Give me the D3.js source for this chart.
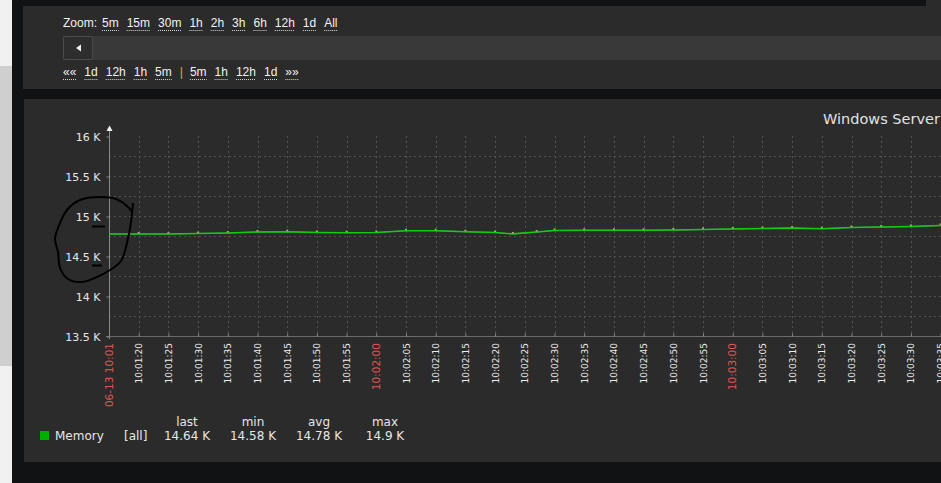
<!DOCTYPE html>
<html>
<head>
<meta charset="utf-8">
<script src="https://cdn.jsdelivr.net/npm/d3@7"></script>
<style>
  html, body { margin: 0; padding: 0; background: #111214; overflow: hidden; }
  svg { display: block; }
</style>
</head>
<body>
<svg id="page" width="941" height="483"></svg>
<script>
// memory samples, seconds after 10:01:15 and the value at that moment
var sampleSeconds = [0, 5, 10, 15, 20, 25, 30, 35, 40, 45, 50, 55, 60, 65, 68, 72, 75, 80, 85, 90, 95, 100, 105, 110, 115, 120, 125, 130, 135, 140, 145]
var memoryValues = [14775, 14775, 14775, 14781, 14787, 14800, 14804, 14794, 14791, 14794, 14816, 14816, 14804, 14794, 14776, 14800, 14819, 14821, 14821, 14821, 14825, 14831, 14837, 14844, 14850, 14841, 14856, 14862, 14869, 14881, 14890]
var yTicks = [13500, 14000, 14500, 15000, 15500, 16000]
var yGrid = [13750, 14000, 14250, 14500, 14750, 15000, 15250, 15500, 15750]
var zoomLinks = ['5m', '15m', '30m', '1h', '2h', '3h', '6h', '12h', '1d', 'All']
var backLinks = ['1d', '12h', '1h', '5m']
var forwardLinks = ['5m', '1h', '12h', '1d']
var legendHeads = ['last', 'min', 'avg', 'max']
var legendValues = ['14.64 K', '14.58 K', '14.78 K', '14.9 K']
// hand drawn circle someone put round the 15 K / 14.5 K labels
var scribble = [[133, 203], [131, 222], [127, 243], [121, 261], [110, 270], [97, 277], [82, 282], [68, 279], [60, 268], [58, 252], [55, 239], [60, 223], [67, 210], [80, 200], [100, 197], [116, 199], [127, 206], [132, 212]]

var svg = d3.select('#page')
var navFont = '"Liberation Sans", Arial, sans-serif'
var chartFont = '"DejaVu Sans", sans-serif'

// page chrome
svg.append('rect').attr('x', 0).attr('y', 0).attr('width', 12).attr('height', 483).attr('fill', '#f0f0f0')
svg.append('rect').attr('x', 0).attr('y', 66).attr('width', 12).attr('height', 300).attr('fill', '#cfcfcf')
svg.append('rect').attr('x', 926).attr('y', 0).attr('width', 15).attr('height', 6).attr('fill', '#2b2b2b')
svg.append('rect').attr('x', 23).attr('y', 6).attr('width', 918).attr('height', 83).attr('fill', '#2b2b2b')
svg.append('rect').attr('x', 63).attr('y', 36).attr('width', 878).attr('height', 24).attr('fill', '#393939')
svg.append('rect').attr('x', 63.5).attr('y', 36.5).attr('width', 29).attr('height', 23).attr('rx', 2)
  .attr('fill', '#2e2e2e').attr('stroke', '#4c4c4c')
svg.append('path').attr('d', 'M76,48L81,44.5L81,51.5Z').attr('fill', '#f2f2f2')
svg.append('rect').attr('x', 24).attr('y', 99).attr('width', 917).attr('height', 363).attr('fill', '#2b2b2b')

function linkRow(y, x, items) {
  items.forEach(function(it) {
    var t = svg.append('text').attr('x', x).attr('y', y)
      .attr('font-family', navFont).attr('font-size', 12)
      .attr('fill', it.color || '#f2f2f2').text(it.text)
    var w = t.node().getComputedTextLength()
    if (it.link) svg.append('line').attr('x1', x).attr('x2', x + w).attr('y1', y + 3.5).attr('y2', y + 3.5)
      .attr('stroke', '#d8d8d8').attr('stroke-width', 1).attr('stroke-dasharray', '1,1')
    x += w + (it.gap || 8)
  })
}

linkRow(27, 63, [{text: 'Zoom:', gap: 5}].concat(zoomLinks.map(function(d){ return {text: d, link: true} })))
linkRow(76, 63, [{text: '««', link: true}]
  .concat(backLinks.map(function(d){ return {text: d, link: true} }))
  .concat([{text: '|', color: '#e8a42a', gap: 7}])
  .concat(forwardLinks.map(function(d){ return {text: d, link: true} }))
  .concat([{text: '»»', link: true}]))

// graph
var start = new Date(2016, 5, 13, 10, 1, 15)
var data = sampleSeconds.map(function(s, i) {
  return {t: new Date(start.getTime() + s * 1000), v: memoryValues[i]}
})
var x = d3.scaleTime()
  .domain([start, new Date(start.getTime() + 150 * 1000)])
  .range([109, 109 + 150 * 5.94])
var y = d3.scaleLinear().domain([13500, 16000]).range([336, 136])

var g = svg.append('g')
var ticks = d3.timeSecond.every(5).range(start, x.domain()[1])

g.selectAll('.hgrid').data(yGrid).enter().append('line')
  .attr('class', 'hgrid')
  .attr('x1', 109).attr('x2', 941)
  .attr('y1', function(d){ return y(d) + 0.5 }).attr('y2', function(d){ return y(d) + 0.5 })
  .attr('stroke', '#525252').attr('stroke-dasharray', '2,3')
g.selectAll('.vgrid').data(ticks.slice(1)).enter().append('line')
  .attr('class', 'vgrid')
  .attr('x1', function(d){ return Math.round(x(d)) + 0.5 }).attr('x2', function(d){ return Math.round(x(d)) + 0.5 })
  .attr('y1', 136).attr('y2', 336)
  .attr('stroke', '#525252').attr('stroke-dasharray', '2,3')

// axes
g.append('line').attr('x1', 109.5).attr('x2', 109.5).attr('y1', 130).attr('y2', 339).attr('stroke', '#8a8a8a')
g.append('path').attr('d', 'M109.5,125.5L112.5,131L106.5,131Z').attr('fill', '#f0f0f0')
g.append('line').attr('x1', 106).attr('x2', 941).attr('y1', 336.5).attr('y2', 336.5).attr('stroke', '#6a6a6a')

var yAxis = g.append('g').attr('transform', 'translate(109.5,0.5)')
  .call(d3.axisLeft(y).tickValues(yTicks).tickSize(3).tickPadding(6)
    .tickFormat(function(d){ return d3.format('~g')(d / 1000) + ' K' }))
yAxis.select('.domain').remove()
yAxis.selectAll('line').attr('stroke', '#8a8a8a')
yAxis.selectAll('text').attr('font-family', chartFont).attr('font-size', 11).attr('fill', '#e6e6e6')

var timeFmt = d3.timeFormat('%H:%M:%S')
var xAxis = g.append('g').attr('transform', 'translate(0,336.5)')
  .call(d3.axisTop(x).tickValues(ticks).tickSize(3).tickFormat(''))
xAxis.select('.domain').remove()
xAxis.selectAll('line').attr('stroke', '#8a8a8a')

g.selectAll('.xlabel').data(ticks).enter().append('text')
  .attr('class', 'xlabel')
  .attr('transform', function(d){ return 'translate(' + (x(d) + 3.5) + ',343)rotate(-90)' })
  .attr('text-anchor', 'end')
  .attr('font-family', chartFont)
  .attr('font-size', function(d, i){ return i == 0 || d.getSeconds() == 0 ? 10.5 : 9 })
  .attr('fill', function(d, i){ return i == 0 || d.getSeconds() == 0 ? '#e05552' : '#ececec' })
  .text(function(d, i){ return i == 0 ? d3.timeFormat('%m-%d %H:%M')(d) : timeFmt(d) })

// memory line
var line = d3.line().x(function(d){ return x(d.t) }).y(function(d){ return y(d.v) })
g.append('path').datum(data).attr('d', line).attr('fill', 'none')
  .attr('stroke', '#9a9a9a').attr('stroke-width', 1).attr('opacity', 0.6)
g.append('path').datum(data).attr('d', line).attr('fill', 'none')
  .attr('stroke', '#10cc10').attr('stroke-width', 1.6)
g.selectAll('.pt').data(data.slice(1)).enter().append('rect')
  .attr('class', 'pt')
  .attr('x', function(d){ return x(d.t) - 1 }).attr('y', function(d){ return y(d.v) - 2 })
  .attr('width', 2).attr('height', 1.5).attr('fill', '#a8a880')

// title
svg.append('text').attr('x', 823).attr('y', 124)
  .attr('font-family', chartFont).attr('font-size', 14.5).attr('fill', '#e2e2e2')
  .text('Windows Server')

// legend
svg.append('rect').attr('x', 40).attr('y', 431).attr('width', 9).attr('height', 9).attr('fill', '#00b000')
svg.append('text').attr('x', 55).attr('y', 440).attr('font-family', chartFont).attr('font-size', 12)
  .attr('fill', '#e6e6e6').text('Memory')
svg.append('text').attr('x', 124).attr('y', 440).attr('font-family', chartFont).attr('font-size', 12)
  .attr('fill', '#e6e6e6').text('[all]')
var legendX = d3.scalePoint().domain(legendHeads).range([187, 385])
svg.selectAll('.lh').data(legendHeads).enter().append('text')
  .attr('class', 'lh')
  .attr('x', function(d){ return legendX(d) }).attr('y', 426)
  .attr('text-anchor', 'middle').attr('font-family', chartFont).attr('font-size', 12)
  .attr('fill', '#e6e6e6').text(function(d){ return d })
svg.selectAll('.lv').data(legendValues).enter().append('text')
  .attr('class', 'lv')
  .attr('x', function(d, i){ return legendX(legendHeads[i]) }).attr('y', 440)
  .attr('text-anchor', 'middle').attr('font-family', chartFont).attr('font-size', 12)
  .attr('fill', '#e6e6e6').text(function(d){ return d })

// the scribble
svg.append('path').datum(scribble)
  .attr('d', d3.line().curve(d3.curveCatmullRom))
  .attr('fill', 'none').attr('stroke', '#000').attr('stroke-width', 2)
svg.append('line').attr('x1', 92).attr('x2', 105).attr('y1', 226.5).attr('y2', 226.5).attr('stroke', '#000').attr('stroke-width', 2)
svg.append('line').attr('x1', 92).attr('x2', 102).attr('y1', 265.5).attr('y2', 265.5).attr('stroke', '#000').attr('stroke-width', 2)
</script>
</body>
</html>
